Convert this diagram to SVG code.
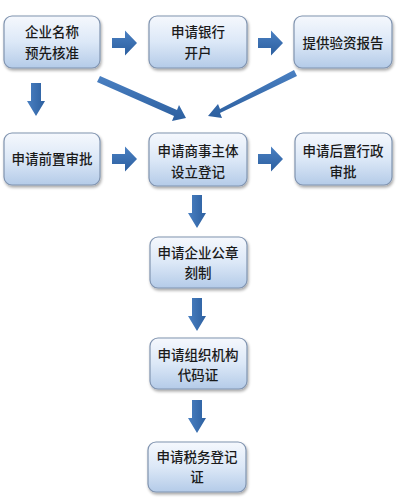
<svg xmlns="http://www.w3.org/2000/svg" width="400" height="500" viewBox="0 0 400 500">
<defs>
<linearGradient id="bg" x1="0" y1="0" x2="0" y2="1">
<stop offset="0" stop-color="#f5f8fd"/>
<stop offset="0.5" stop-color="#dce8f7"/>
<stop offset="1" stop-color="#b4cbe8"/>
</linearGradient>
<linearGradient id="ag" x1="0" y1="0" x2="0" y2="1">
<stop offset="0" stop-color="#4a80c2"/>
<stop offset="1" stop-color="#2c5f9f"/>
</linearGradient>
<linearGradient id="agv" x1="0" y1="0" x2="1" y2="0">
<stop offset="0" stop-color="#4a80c2"/>
<stop offset="1" stop-color="#2c5f9f"/>
</linearGradient>
<filter id="sh" x="-10%" y="-10%" width="125%" height="130%">
<feGaussianBlur in="SourceAlpha" stdDeviation="1.5"/>
<feOffset dx="1" dy="2" result="o"/>
<feComponentTransfer><feFuncA type="linear" slope="0.35"/></feComponentTransfer>
<feMerge><feMergeNode/><feMergeNode in="SourceGraphic"/></feMerge>
</filter>
<path id="ar" d="M0,-5 L13,-5 L13,-12.5 L25,0 L13,12.5 L13,5 L0,5 Z"/>
<path id="ad" d="M-5,0 L5,0 L5,18 L9,18 L0,33 L-9,18 L-5,18 Z"/>
</defs>
<style>
.box{fill:url(#bg);stroke:#8094b0;stroke-width:1.2;filter:url(#sh)}
.t{font-family:"Noto Sans CJK SC","Noto Sans",sans-serif;font-size:13.5px;font-weight:500;fill:#1a1a1a;text-anchor:middle}
.a{fill:url(#ag)}
.av{fill:url(#agv)}
</style>
<rect width="400" height="500" fill="#ffffff"/>
<g id="connectors">
<use href="#ar" class="a" transform="translate(112,43)"/>
<use href="#ar" class="a" transform="translate(258,43)"/>
<use href="#ar" class="a" transform="translate(112,159)"/>
<use href="#ar" class="a" transform="translate(258,159)"/>
<use href="#ad" class="av" transform="translate(36,83)"/>
<use href="#ad" class="av" transform="translate(197,195)"/>
<use href="#ad" class="av" transform="translate(197,298)"/>
<use href="#ad" class="av" transform="translate(197,400)"/>
<path class="a" d="M100,76 L177,110 L179,105 L186,118 L172,121 L174,116 L97,82 Z"/>
<path class="a" d="M294,70 L220,109 L218,104 L208,116 L222,118 L220,113 L297,76 Z"/>
</g>
<g id="n1"><rect class="box" x="4" y="16" width="96" height="52" rx="8"/>
<text class="t" x="52" y="37">企业名称</text><text class="t" x="52" y="58">预先核准</text></g>
<g id="n2"><rect class="box" x="149" y="16" width="98" height="52" rx="8"/>
<text class="t" x="198" y="37">申请银行</text><text class="t" x="198" y="58">开户</text></g>
<g id="n3"><rect class="box" x="294" y="16" width="98" height="52" rx="8"/>
<text class="t" x="343" y="48">提供验资报告</text></g>
<g id="n4"><rect class="box" x="4" y="133" width="96" height="52" rx="8"/>
<text class="t" x="52" y="164">申请前置审批</text></g>
<g id="n5"><rect class="box" x="149" y="133" width="98" height="53" rx="8"/>
<text class="t" x="198" y="156">申请商事主体</text><text class="t" x="198" y="177">设立登记</text></g>
<g id="n6"><rect class="box" x="295" y="133" width="97" height="52" rx="8"/>
<text class="t" x="343" y="156">申请后置行政</text><text class="t" x="343" y="177">审批</text></g>
<g id="n7"><rect class="box" x="150" y="237" width="97" height="51" rx="8"/>
<text class="t" x="198" y="258">申请企业公章</text><text class="t" x="198" y="278">刻制</text></g>
<g id="n8"><rect class="box" x="150" y="338" width="97" height="51" rx="8"/>
<text class="t" x="198" y="360">申请组织机构</text><text class="t" x="198" y="380">代码证</text></g>
<g id="n9"><rect class="box" x="148" y="442" width="98" height="50" rx="8"/>
<text class="t" x="197" y="462">申请税务登记</text><text class="t" x="197" y="482">证</text></g>
</svg>
